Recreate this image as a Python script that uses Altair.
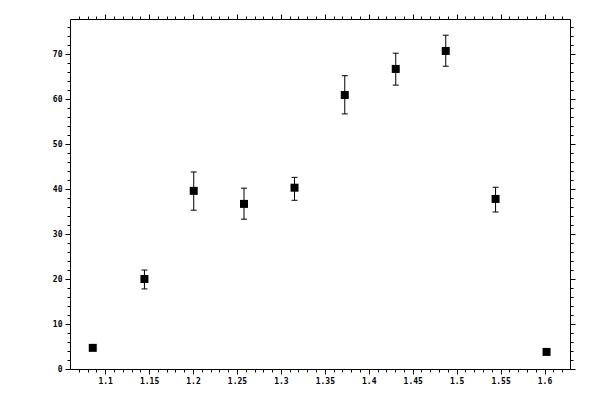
import altair as alt
import pandas as pd

# data
x_vals = [1.0859, 1.1447, 1.2008, 1.2580, 1.3155, 1.3727, 1.4307, 1.4876, 1.5443, 1.6023]
y_vals = [4.7, 20.0, 39.6, 36.7, 40.3, 60.9, 66.7, 70.7, 37.8, 3.8]
y_hi = [5.2, 22.0, 43.8, 40.2, 42.6, 65.2, 70.2, 74.2, 40.4, 4.1]
y_lo = [4.2, 17.8, 35.3, 33.3, 37.5, 56.7, 63.1, 67.3, 34.9, 3.5]

# tick positions
x_major = [1.1, 1.15, 1.2, 1.25, 1.3, 1.35, 1.4, 1.45, 1.5, 1.55, 1.6]
x_minor = [round(1.07 + 0.01 * i, 2) for i in range(56)]
y_major = [0, 10, 20, 30, 40, 50, 60, 70]
y_minor = list(range(0, 77, 2))

df = pd.DataFrame({"x": x_vals, "y": y_vals, "hi": y_hi, "lo": y_lo})

xs = alt.Scale(domain=[1.06, 1.629], nice=False, zero=False)
ys = alt.Scale(domain=[0, 77.8], nice=False, zero=False)

FONT = "DejaVu Sans Mono"


def ax(orient, values, size, labels, fmt, domain=True):
    return alt.Axis(
        orient=orient, values=values, tickSize=size, labels=labels, domain=domain,
        grid=False, title=None, tickColor="black", domainColor="black",
        labelColor="black", labelFont=FONT, labelFontSize=8, labelFontWeight="bold",
        labelPadding=3, tickWidth=1, domainWidth=1, labelOverlap=False,
        labelFlush=False, format=fmt,
    )


base = alt.Chart(df)

rules = base.mark_rule(color="black", strokeWidth=1).encode(
    x=alt.X("x:Q", scale=xs, axis=ax("bottom", x_minor, 3, False, "~g", False)),
    y=alt.Y("lo:Q", scale=ys, axis=ax("left", y_minor, 3, False, "d", False)),
    y2="hi:Q",
)

caps_hi = base.mark_tick(orient="horizontal", size=6, thickness=1, color="black", opacity=1).encode(
    x=alt.X("x:Q", scale=xs, axis=ax("top", x_major, 5, False, "~g")),
    y=alt.Y("hi:Q", scale=ys, axis=ax("right", y_major, 5, False, "d")),
)

caps_lo = base.mark_tick(orient="horizontal", size=6, thickness=1, color="black", opacity=1).encode(
    x=alt.X("x:Q", scale=xs, axis=ax("top", x_minor, 3, False, "~g", False)),
    y=alt.Y("lo:Q", scale=ys, axis=ax("right", y_minor, 3, False, "d", False)),
)

points = base.mark_point(shape="square", filled=True, size=64, color="black", opacity=1).encode(
    x=alt.X("x:Q", scale=xs, axis=ax("bottom", x_major, 5, True, "~g")),
    y=alt.Y("y:Q", scale=ys, axis=ax("left", y_major, 5, True, "d")),
)

chart = (
    alt.layer(rules, caps_hi, caps_lo, points)
    .resolve_axis(x="independent", y="independent")
    .properties(
        width=500, height=350,
        padding={"left": 62, "top": 11, "right": 22, "bottom": 15},
        autosize="none", background="white",
    )
    .configure_view(stroke=None)
)

chart.save("out.html", embed_options={"renderer": "svg", "actions": False})
